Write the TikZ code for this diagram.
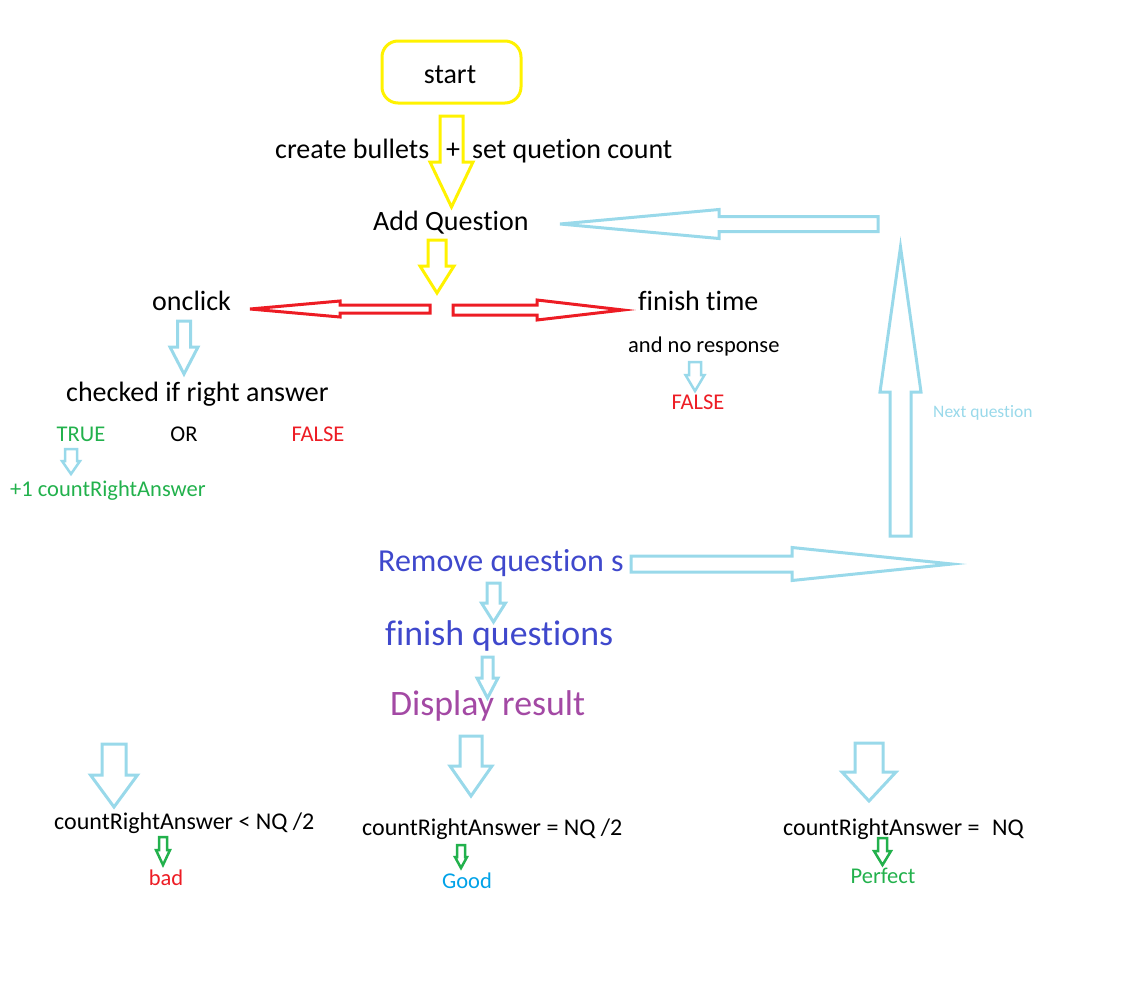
\documentclass[tikz,border=0pt]{standalone}
\usepackage{fontspec}
\setmainfont{Carlito}[Ligatures=NoCommon]
\definecolor{pyellow}{HTML}{FFF200}
\definecolor{pblue}{HTML}{99D9EA}
\definecolor{pred}{HTML}{ED1C24}
\definecolor{pgreen}{HTML}{22B14C}
\definecolor{pindigo}{HTML}{3F48CC}
\definecolor{ppurple}{HTML}{A349A4}
\definecolor{pcyan}{HTML}{00A2E8}
\newcommand{\blockv}[7]{% style, cx, top, shaft hw, headY, head hw, tipY
  \draw[#1] (#2-#4,#3) -- (#2+#4,#3) -- (#2+#4,#5) -- (#2+#6,#5) -- (#2,#7) -- (#2-#6,#5) -- (#2-#4,#5) -- cycle;}
\newcommand{\blockh}[7]{% style, tailX, cy, shaft hw, headX, head hw, tipX
  \draw[#1] (#2,#3-#4) -- (#5,#3-#4) -- (#5,#3-#6) -- (#7,#3) -- (#5,#3+#6) -- (#5,#3+#4) -- (#2,#3+#4) -- cycle;}
\tikzset{
  yarrow/.style={draw=pyellow, line width=3pt, line join=miter},
  rarrow/.style={draw=pred, line width=3pt, line join=miter},
  barrow/.style={draw=pblue, line width=3pt, line join=miter},
  sbarrow/.style={draw=pblue, line width=2.5pt, line join=miter},
  garrow/.style={draw=pgreen, line width=2.5pt, line join=miter},
  txt/.style={inner sep=0pt, anchor=base west},
  ctxt/.style={inner sep=0pt, anchor=base},
  big/.style={font=\fontsize{28}{32}\selectfont},
  mid/.style={font=\fontsize{22.5}{27}\selectfont},
  cond/.style={font=\fontsize{24}{28}\selectfont},
  huge/.style={font=\fontsize{35.8}{40}\selectfont},
}
\begin{document}
\begin{tikzpicture}[x=1pt,y=-1pt]
\useasboundingbox (0,0) rectangle (1148,988);
% start box
\draw[pyellow, line width=3pt, rounded corners=16pt] (382,41) rectangle (521,103);
\node[ctxt,big] (start) at (450,83) {start};
% first line
\node[txt,big] (bullets) at (275,158) {create bullets};
\node[txt,big] (plus) at (446,158) {+};
\node[txt,big] (setq) at (472,158) {set quetion count};
\blockv{yarrow}{451.5}{116}{11.5}{162}{21.5}{207}
\node[txt,big] (addq) at (373,230) {Add Question};
\blockv{yarrow}{437}{240}{9}{266}{17}{293}
% red arrows
\blockh{rarrow}{430}{309}{4}{340}{8}{250}
\blockh{rarrow}{453}{310}{5}{537}{10}{623}
\node[txt,big] (onclick) at (152,310) {onclick};
\node[txt,big] (finish) at (638,310) {finish time};
\node[txt,mid] (noresp) at (628,352) {and no response};
\blockv{sbarrow}{695}{362}{6}{375}{9.5}{391}
\node[ctxt,mid,text=pred] (false2) at (698,409) {FALSE};
% left branch
\blockv{barrow}{184}{321}{6.5}{347}{14}{374}
\node[txt,big] (checked) at (66,401) {checked if right answer};
\node[ctxt,mid,text=pgreen] (true) at (81,441) {TRUE};
\node[ctxt,mid] (or) at (184,441) {OR};
\node[ctxt,mid,text=pred] (false1) at (318,441) {FALSE};
\blockv{sbarrow}{71}{449}{6}{461}{9}{474}
\node[txt,mid,text=pgreen] (plusone) at (10,496) {+1 countRightAnswer};
% loop arrows
\blockh{barrow}{878}{224}{7.5}{719}{14.5}{560}
\blockv{barrow}{900.5}{536}{10.5}{392}{20.5}{247}
\node[txt,text=pblue,font=\fontsize{17.5}{21}\selectfont] (nextq) at (933,417) {Next question};
\node[txt,text=pindigo,font=\fontsize{32}{36}\selectfont] (remove) at (378,571) {Remove question s};
\blockh{barrow}{631}{564}{8}{792}{16.5}{952}
\blockv{barrow}{493.5}{583}{6.5}{603}{12}{622}
\node[txt,huge,text=pindigo] (finq) at (385,645) {finish questions};
\blockv{barrow}{487.5}{657}{5.5}{678}{10.5}{698}
\node[txt,huge,text=ppurple] (display) at (390,715) {Display result};
% results
\blockv{barrow}{114}{744}{12}{775}{23.5}{807}
\blockv{barrow}{471}{736}{11}{766}{21}{796}
\blockv{barrow}{869}{743}{14}{772}{27}{801}
\node[txt,cond] (c1) at (54,829) {countRightAnswer < NQ /2};
\node[txt,cond] (c2) at (362,835) {countRightAnswer = NQ /2};
\node[txt,cond] (c3) at (783,835) {countRightAnswer =\hspace{0.3em} NQ};
\blockv{garrow}{163}{837}{4}{850}{7}{865}
\blockv{garrow}{461}{845}{4}{857}{6}{868}
\blockv{garrow}{882.5}{838}{4.5}{851}{8.5}{865}
\node[ctxt,mid,text=pred] (bad) at (166,885) {bad};
\node[ctxt,mid,text=pcyan] (good) at (467,888) {Good};
\node[ctxt,mid,text=pgreen] (perfect) at (883,883) {Perfect};
\end{tikzpicture}
\end{document}
